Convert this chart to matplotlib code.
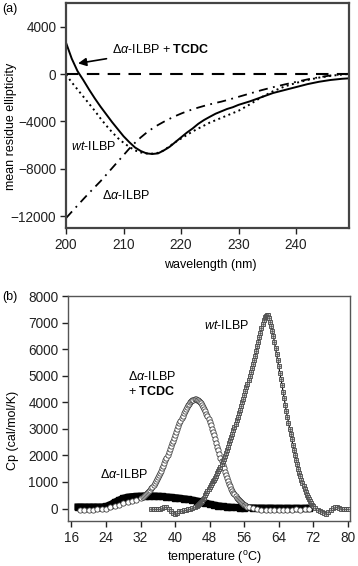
import matplotlib
matplotlib.use('Agg')
import matplotlib.pyplot as plt

plt.rcParams['font.family'] = ['Liberation Sans', 'DejaVu Sans']
plt.rcParams['mathtext.fontset'] = 'custom'
plt.rcParams['mathtext.rm'] = 'Liberation Sans'
plt.rcParams['mathtext.it'] = 'Liberation Sans:italic'
plt.rcParams['mathtext.bf'] = 'Liberation Sans:bold'

# ---------------- Panel (a): CD spectra ----------------
wavelength = [200, 201, 202, 203, 204, 205, 206, 207, 208, 209, 210, 211, 212, 213, 214,
              215, 216, 217, 218, 219, 220, 221, 222, 223, 224, 225, 226, 227, 228, 229,
              230, 232, 234, 236, 238, 240, 242, 244, 246, 248, 249]
cd_tcdc = [2650, 1300, 250, -500, -1300, -2050, -2750, -3400, -4050, -4650, -5250, -5750,
           -6200, -6500, -6700, -6750, -6700, -6450, -6150, -5750, -5350, -4950, -4600,
           -4200, -3880, -3610, -3350, -3150, -2950, -2800, -2600, -2300, -1950, -1600,
           -1350, -1100, -850, -650, -500, -400, -370]
cd_wt = [-50, -700, -1300, -1900, -2500, -3100, -3750, -4350, -4900, -5400, -5800, -6150,
         -6450, -6620, -6700, -6720, -6650, -6450, -6100, -5750, -5450, -5150, -4850, -4600,
         -4350, -4100, -3900, -3700, -3500, -3300, -3100, -2550, -1950, -1450, -1050, -750,
         -500, -300, -150, -40, 0]
cd_delta = [-12170, -11630, -11100, -10570, -10050, -9550, -9050, -8500, -7950, -7400,
            -6850, -6300, -5800, -5350, -4950, -4600, -4300, -4030, -3780, -3550, -3340,
            -3150, -2980, -2830, -2690, -2560, -2440, -2330, -2200, -2060, -1920, -1640,
            -1360, -1110, -880, -660, -450, -270, -120, -20, 20]
a_xticks = [200, 210, 220, 230, 240]
a_yticks = [4000, 0, -4000, -8000, -12000]

# ---------------- Panel (b): DSC ----------------
delta_T = [17.5, 18, 19, 20, 21, 22, 23, 24, 25, 26, 27, 28, 29, 30, 31, 32, 33, 34, 35,
           36, 37, 38, 39, 40, 41, 42, 43, 44, 45, 46, 47, 48, 49, 50, 51, 52, 53, 54, 55,
           56, 58, 60, 62, 64, 66, 68, 70, 71]
delta_cp = [60, 60, 60, 60, 60, 60, 60, 80, 150, 240, 320, 390, 430, 450, 460, 470, 475,
            480, 475, 465, 455, 440, 425, 410, 390, 370, 345, 320, 290, 250, 210, 170, 135,
            105, 80, 60, 50, 40, 35, 30, 25, 20, 20, 15, 15, 15, 15, 15]

tcdc_T = [18, 19, 20, 21, 22, 23, 24, 25, 26, 27, 28, 29, 30, 31, 32,
          32.5, 32.75, 33, 33.25, 33.5, 33.75, 34, 34.25, 34.5, 34.75, 35, 35.25, 35.5,
          35.75, 36, 36.25, 36.5, 36.75, 37, 37.25, 37.5, 37.75, 38, 38.25, 38.5, 38.75,
          39, 39.25, 39.5, 39.75, 40, 40.25, 40.5, 40.75, 41, 41.25, 41.5, 41.75, 42,
          42.25, 42.5, 42.75, 43, 43.25, 43.5, 43.75, 44, 44.25, 44.5, 44.75, 45, 45.25,
          45.5, 45.75, 46, 46.25, 46.5, 46.75, 47, 47.25, 47.5, 47.75, 48, 48.25, 48.5,
          48.75, 49, 49.25, 49.5, 49.75, 50, 50.25, 50.5, 50.75, 51, 51.25, 51.5, 51.75,
          52, 52.25, 52.5, 52.75, 53, 53.25, 53.5, 53.75, 54, 54.25, 54.5, 54.75, 55,
          55.25, 55.5, 55.75, 56, 56.25, 56.5, 56.75, 57,
          58, 59, 60, 61, 62, 63, 64, 65, 66, 67, 68, 69, 70, 71]
tcdc_cp = [-40, -40, -40, -40, -35, -30, 0, 40, 90, 140, 190, 230, 270, 320, 390,
           430, 455, 490, 530, 570, 615, 660, 710, 760, 820, 880, 950, 1020,
           1095, 1170, 1255, 1340, 1430, 1520, 1615, 1710, 1810, 1910, 2015, 2120, 2230,
           2340, 2450, 2560, 2670, 2780, 2890, 3000, 3105, 3210, 3310, 3410, 3500, 3590,
           3670, 3750, 3820, 3890, 3950, 4000, 4045, 4080, 4100, 4110, 4110, 4100, 4080,
           4050, 4010, 3960, 3900, 3830, 3750, 3670, 3570, 3470, 3360, 3250, 3130, 3010,
           2880, 2750, 2610, 2470, 2330, 2190, 2050, 1910, 1770, 1640, 1510, 1380, 1260,
           1140, 1030, 930, 840, 750, 670, 600, 530, 470, 410, 360, 315, 275,
           235, 200, 170, 140, 115, 90, 70, 50,
           10, -20, -40, -50, -50, -50, -40, -50, -40, -40, -30, -40, -30, -20]

wt_T = [34.5, 35, 35.5, 36, 36.5, 37, 37.5, 38, 38.5, 39, 39.5, 40, 40.5, 41, 41.5, 42,
        42.5, 43, 43.5, 44, 44.5, 45, 45.25, 45.5, 45.75, 46, 46.25, 46.5, 46.75, 47,
        47.25, 47.5, 47.75, 48, 48.25, 48.5, 48.75, 49, 49.25, 49.5, 49.75, 50, 50.25,
        50.5, 50.75, 51, 51.25, 51.5, 51.75, 52, 52.25, 52.5, 52.75, 53, 53.25, 53.5,
        53.75, 54, 54.25, 54.5, 54.75, 55, 55.25, 55.5, 55.75, 56, 56.25, 56.5, 56.75,
        57, 57.25, 57.5, 57.75, 58, 58.25, 58.5, 58.75, 59, 59.25, 59.5, 59.75, 60,
        60.25, 60.5, 60.75, 61, 61.25, 61.5, 61.75, 62, 62.25, 62.5, 62.75, 63, 63.25,
        63.5, 63.75, 64, 64.25, 64.5, 64.75, 65, 65.25, 65.5, 65.75, 66, 66.25, 66.5,
        66.75, 67, 67.25, 67.5, 67.75, 68, 68.25, 68.5, 68.75, 69, 69.25, 69.5, 69.75,
        70, 70.25, 70.5, 70.75, 71, 71.25, 71.5, 71.75, 72, 72.5, 73, 73.5, 74, 74.5,
        75, 75.5, 76, 76.5, 77, 77.5, 78, 78.5, 79, 79.5, 80]
wt_cp = [-30, -30, -30, -20, 0, 30, 60, 50, 0, -80, -160, -190, -160, -110, -80, -60,
         -40, -20, 0, 20, 50, 100, 130, 160, 190, 230, 280, 340, 410, 490,
         570, 650, 730, 810, 880, 950, 1020, 1090, 1160, 1240, 1320, 1400, 1490,
         1580, 1680, 1780, 1880, 1990, 2100, 2210, 2330, 2450, 2570, 2690, 2810, 2940,
         3070, 3200, 3330, 3460, 3590, 3720, 3860, 4000, 4140, 4280, 4420, 4560, 4700,
         4840, 4980, 5130, 5280, 5430, 5590, 5760, 5930, 6100, 6270, 6440, 6610, 6780,
         6950, 7100, 7200, 7250, 7290, 7270, 7180, 7030, 6880, 6700, 6490, 6270, 6040,
         5810, 5580, 5350, 5120, 4890, 4650, 4400, 4150, 3900, 3660, 3450, 3230, 3010,
         2800, 2600, 2400, 2200, 2010, 1830, 1660, 1500, 1350, 1210, 1080, 960, 840,
         730, 620, 520, 430, 350, 280, 210, 150, 100, 20, -40, -90, -140, -180,
         -190, -140, -60, 20, 70, 60, 20, 0, 0, 0, 0]
b_xticks = [16, 24, 32, 40, 48, 56, 64, 72, 80]
b_yticks = [0, 1000, 2000, 3000, 4000, 5000, 6000, 7000, 8000]

FS = 9
TFS = 9.8
W, H = 358, 566
fig = plt.figure(figsize=(W / 100, H / 100), dpi=100)

def box(l, t, r, b):
    return [l / W, 1 - b / H, (r - l) / W, (b - t) / H]

# ---- (a) ----
ax = fig.add_axes(box(66, 3, 349, 228))
ax.plot(wavelength, cd_tcdc, color='black', lw=1.4)
ax.plot(wavelength, cd_wt, color='black', lw=1.4, linestyle=(0, (1, 1.8)))
ax.plot(wavelength, cd_delta, color='black', lw=1.3, linestyle=(0, (5, 3, 1, 3)))
ax.axhline(0, color='black', lw=1.5, linestyle=(0, (6, 4)))
ax.set_xlim(200, 249.2)
ax.set_ylim(-13000, 6000)
ax.set_xticks(a_xticks)
ax.set_yticks(a_yticks)
ax.tick_params(labelsize=TFS, direction='out', length=4, width=1, colors='#222222', pad=3)
for s in ax.spines.values():
    s.set_linewidth(1.6)
    s.set_color('#444444')
ax.set_xlabel('wavelength (nm)', fontsize=FS)
ax.set_ylabel('mean residue ellipticity', fontsize=FS)
ax.xaxis.set_label_coords(0.509, -0.165)
ax.yaxis.set_label_coords(-0.194, 0.45)
ax.xaxis.label.set_va('center')
ax.yaxis.label.set_va('center')
ax.annotate(r'$\Delta\alpha$-ILBP + $\mathbf{TCDC}$', xy=(202.1, 900), xytext=(208, 2050),
            fontsize=FS, va='center', ha='left',
            arrowprops=dict(arrowstyle='-|>', color='black', lw=1.2,
                            mutation_scale=12, shrinkA=2, shrinkB=0))
ax.text(200.8, -6150, r'$\mathit{wt}$-ILBP', fontsize=FS, va='center', ha='left')
ax.text(206.2, -10250, r'$\Delta\alpha$-ILBP', fontsize=FS, va='center', ha='left')
fig.text(2 / W, 1 - 9 / H, '(a)', fontsize=FS, va='center', ha='left')

# ---- (b) ----
bx = fig.add_axes(box(68, 296, 350, 521))
bx.plot(delta_T, delta_cp, color='black', lw=5, marker='s', ms=4,
        mfc='black', mec='black', zorder=2)
bx.plot(tcdc_T, tcdc_cp, linestyle='none', marker='o', ms=3.8, mfc='white',
        mec='#333333', mew=0.55, zorder=3)
bx.plot(wt_T, wt_cp, color='black', lw=0.8, marker='s', ms=3.4, mfc='#c8c8c8',
        mec='#444444', mew=0.6, zorder=4)
bx.plot(wt_T, wt_cp, linestyle='none', marker='+', ms=2.4, mec='#555555', mew=0.5,
        zorder=5)
bx.set_xlim(15.2, 80.5)
bx.set_ylim(-470, 8000)
bx.set_xticks(b_xticks)
bx.set_yticks(b_yticks)
bx.tick_params(labelsize=TFS, direction='out', length=4, width=1, colors='#222222', pad=3)
for s in bx.spines.values():
    s.set_linewidth(1.0)
    s.set_color('#555555')
bx.set_xlabel(r'temperature ($^{\rm o}$C)', fontsize=FS)
bx.set_ylabel('Cp (cal/mol/K)', fontsize=FS)
bx.xaxis.set_label_coords(0.518, -0.16)
bx.yaxis.set_label_coords(-0.195, 0.404)
bx.xaxis.label.set_va('center')
bx.yaxis.label.set_va('center')
bx.text(46.8, 6900, r'$\mathit{wt}$-ILBP', fontsize=FS, va='center', ha='left')
bx.text(29.2, 4970, r'$\Delta\alpha$-ILBP', fontsize=FS, va='center', ha='left')
bx.text(29.2, 4420, r'+ $\mathbf{TCDC}$', fontsize=FS, va='center', ha='left')
bx.text(22.6, 1290, r'$\Delta\alpha$-ILBP', fontsize=FS, va='center', ha='left')
fig.text(2 / W, 1 - 297 / H, '(b)', fontsize=FS, va='center', ha='left')

fig.savefig('out.png', dpi=100)
